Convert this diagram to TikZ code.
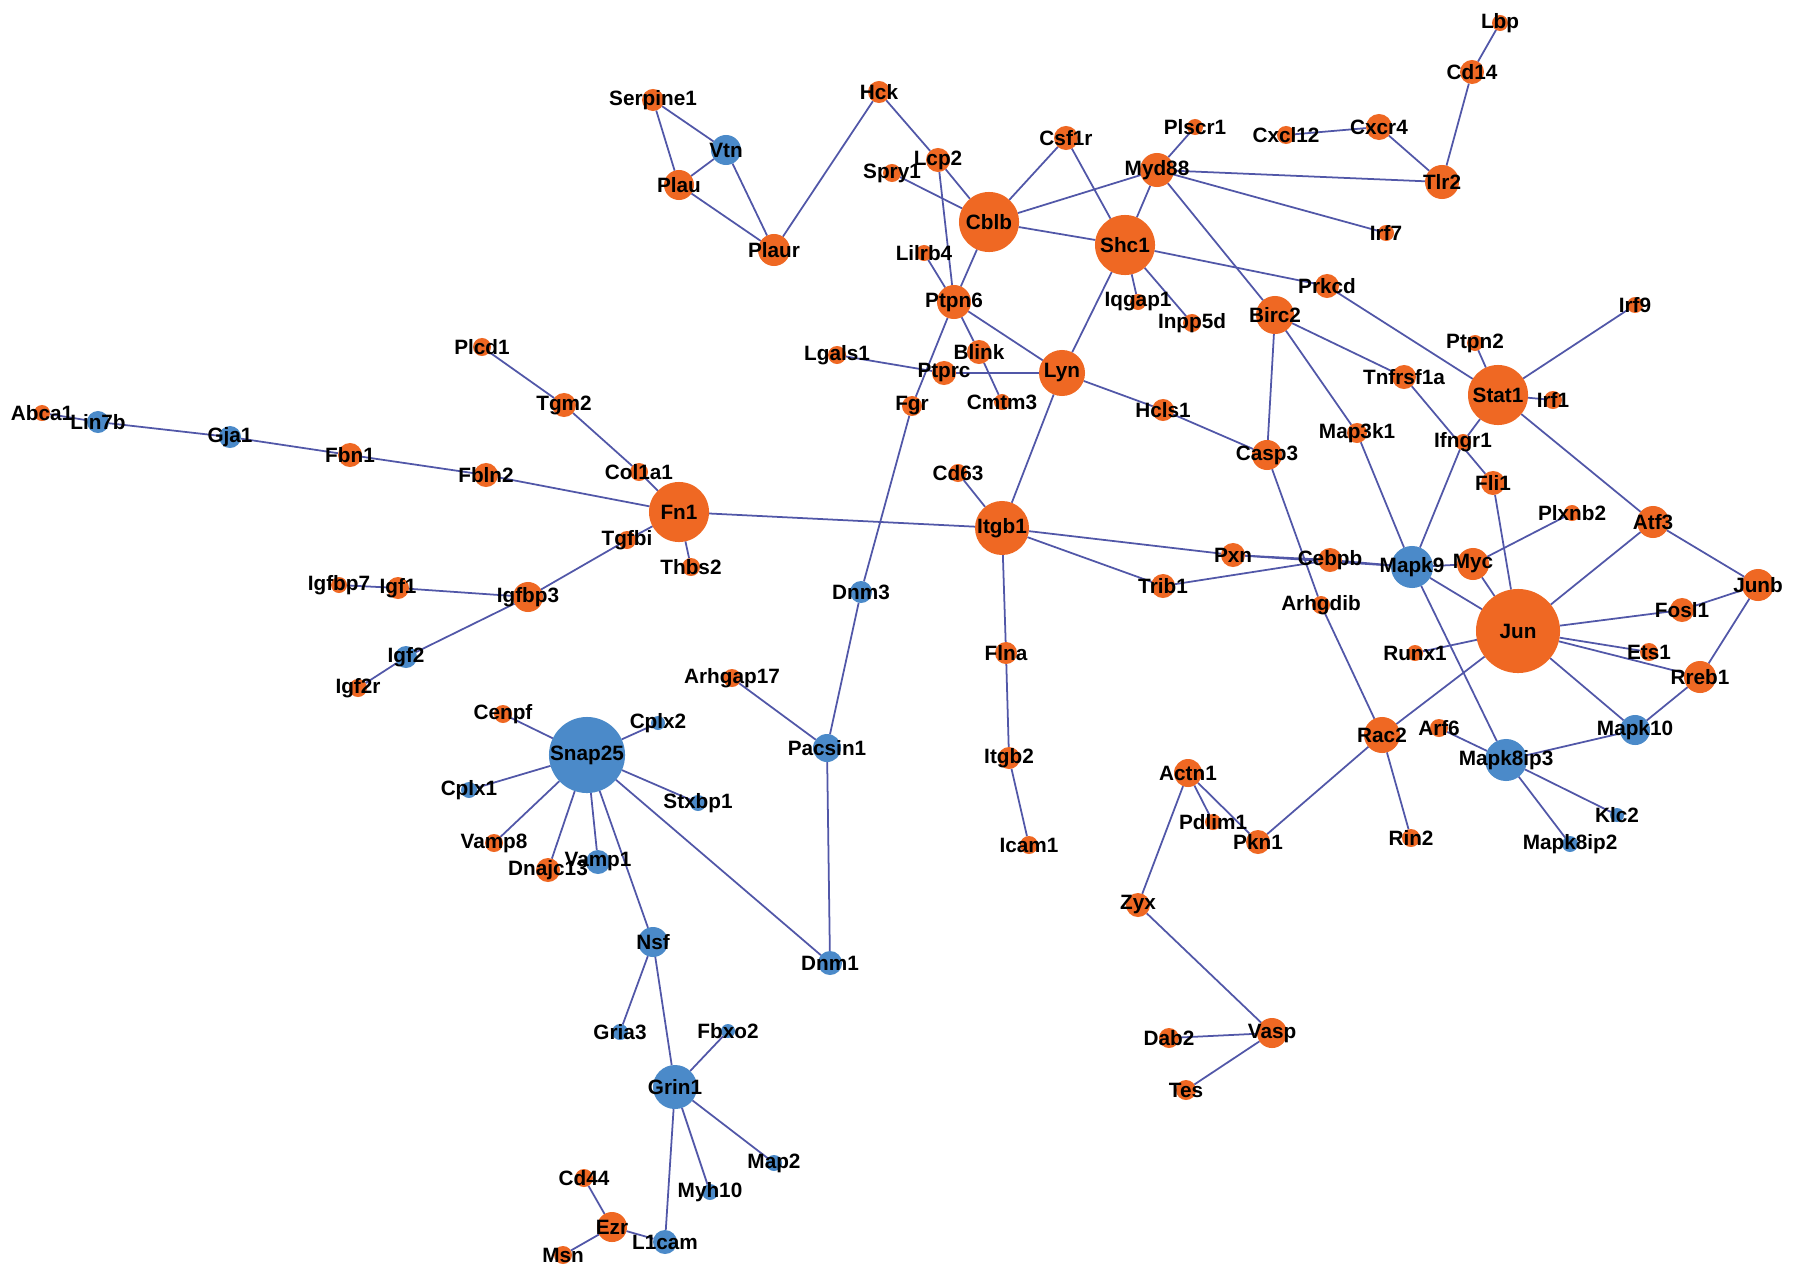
\documentclass[tikz,border=0pt]{standalone}
\usepackage{fontspec}
\setmainfont{Liberation Sans}
\usetikzlibrary{backgrounds}
\definecolor{og}{HTML}{EF6823}
\definecolor{bl}{HTML}{4B8AC9}
\definecolor{ed}{HTML}{5157A8}
\pgfdeclarelayer{bgzero}
\pgfsetlayers{bgzero,background,main}
\tikzset{
  gnode/.style={circle, draw=none, inner sep=0pt, outer sep=0pt},
  lbl/.style={inner sep=0pt, text=black, font=\bfseries\fontsize{5.9}{6.2}\selectfont},
  edge/.style={draw=ed, line width=0.5pt}
}
\newcommand{\gn}[6]{%
  \node[gnode, fill=#5, minimum size=#4*0.02cm] (#1) at (#2,#3) {};
  \node[lbl] (#1-t) at (#2,#3) {#6};}
\begin{document}
\begin{tikzpicture}[x=0.01cm, y=-0.01cm]
\begin{pgfonlayer}{bgzero}
\fill[white] (0,0) rectangle (1795,1276);
\end{pgfonlayer}
\useasboundingbox (0,0) rectangle (1795,1276);
% left
\gn{abca1}{42}{413}{8}{og}{Abca1}
\gn{lin7b}{98}{422}{11}{bl}{Lin7b}
\gn{gja1}{230}{437}{11}{bl}{Gja1}
\gn{fbn1}{350}{455}{12}{og}{Fbn1}
\gn{fbln2}{486}{475}{12}{og}{Fbln2}
\gn{plcd1}{482}{347}{9}{og}{Plcd1}
\gn{tgm2}{564}{405}{12}{og}{Tgm2}
\gn{col1a1}{639}{472}{9}{og}{Col1a1}
\gn{fn1}{679}{512}{30}{og}{Fn1}
\gn{tgfbi}{627}{540}{9}{og}{Tgfbi}
\gn{thbs2}{691}{567}{9}{og}{Thbs2}
\gn{igfbp7}{339}{585}{8}{og}{Igfbp7}
\gn{igf1}{398}{588}{11}{og}{Igf1}
\gn{igfbp3}{528}{597}{15}{og}{Igfbp3}
\gn{igf2}{406}{657}{11}{bl}{Igf2}
\gn{igf2r}{358}{688}{9}{og}{Igf2r}
\gn{cenpf}{503}{714}{9}{og}{Cenpf}
\gn{snap25}{587}{755}{38}{bl}{Snap25}
\gn{cplx2}{658}{723}{7}{bl}{Cplx2}
\gn{cplx1}{469}{790}{8}{bl}{Cplx1}
\gn{stxbp1}{698}{803}{8}{bl}{Stxbp1}
\gn{vamp8}{494}{843}{9}{og}{Vamp8}
\gn{dnajc13}{548}{870}{12}{og}{Dnajc13}
\gn{vamp1}{598}{862}{12}{bl}{Vamp1}
\gn{nsf}{653}{942}{15}{bl}{Nsf}
\gn{dnm1}{830}{963}{12}{bl}{Dnm1}
\gn{gria3}{620}{1032}{8}{bl}{Gria3}
\gn{fbxo2}{728}{1031}{7}{bl}{Fbxo2}
\gn{grin1}{675}{1087}{22}{bl}{Grin1}
\gn{map2}{774}{1163}{8}{bl}{Map2}
\gn{myh10}{710}{1192}{8}{bl}{Myh10}
\gn{l1cam}{665}{1242}{12}{bl}{L1cam}
\gn{ezr}{612}{1227}{15}{og}{Ezr}
\gn{cd44}{584}{1178}{9}{og}{Cd44}
\gn{msn}{563}{1255}{9}{og}{Msn}
% top centre
\gn{serpine1}{653}{100}{11}{og}{Serpine1}
\gn{vtn}{726}{150}{15}{bl}{Vtn}
\gn{plau}{679}{185}{15}{og}{Plau}
\gn{plaur}{774}{250}{16}{og}{Plaur}
\gn{hck}{879}{92}{11}{og}{Hck}
\gn{lcp2}{938}{160}{12}{og}{Lcp2}
\gn{spry1}{892}{173}{9}{og}{Spry1}
\gn{csf1r}{1066}{138}{12}{og}{Csf1r}
\gn{plscr1}{1195}{127}{8}{og}{Plscr1}
\gn{myd88}{1157}{170}{17}{og}{Myd88}
\gn{cblb}{989}{222}{30}{og}{Cblb}
\gn{shc1}{1125}{245}{30}{og}{Shc1}
\gn{lilrb4}{924}{253}{8}{og}{Lilrb4}
\gn{ptpn6}{954}{302}{17}{og}{Ptpn6}
\gn{iqgap1}{1138}{302}{8}{og}{Iqgap1}
\gn{inpp5d}{1192}{323}{9}{og}{Inpp5d}
\gn{lgals1}{837}{355}{9}{og}{Lgals1}
\gn{blink}{979}{352}{12}{og}{Blink}
\gn{ptprc}{944}{373}{12}{og}{Ptprc}
\gn{lyn}{1062}{373}{23}{og}{Lyn}
\gn{fgr}{912}{406}{10}{og}{Fgr}
\gn{cmtm3}{1002}{402}{8}{og}{Cmtm3}
\gn{hcls1}{1163}{410}{11}{og}{Hcls1}
\gn{dnm3}{861}{592}{11}{bl}{Dnm3}
\gn{pacsin1}{827}{748}{14}{bl}{Pacsin1}
\gn{arhgap17}{732}{678}{9}{og}{Arhgap17}
\gn{cd63}{958}{473}{9}{og}{Cd63}
\gn{itgb1}{1002}{528}{27}{og}{Itgb1}
\gn{trib1}{1163}{586}{12}{og}{Trib1}
\gn{flna}{1006}{653}{11}{og}{Flna}
\gn{itgb2}{1009}{758}{11}{og}{Itgb2}
\gn{icam1}{1029}{845}{9}{og}{Icam1}
% right
\gn{lbp}{1500}{23}{8}{og}{Lbp}
\gn{cd14}{1472}{72}{12}{og}{Cd14}
\gn{cxcl12}{1286}{135}{9}{og}{Cxcl12}
\gn{cxcr4}{1379}{127}{13}{og}{Cxcr4}
\gn{tlr2}{1442}{182}{17}{og}{Tlr2}
\gn{irf7}{1386}{233}{8}{og}{Irf7}
\gn{prkcd}{1327}{286}{12}{og}{Prkcd}
\gn{birc2}{1275}{315}{19}{og}{Birc2}
\gn{ptpn2}{1475}{343}{8}{og}{Ptpn2}
\gn{irf9}{1635}{305}{8}{og}{Irf9}
\gn{tnfrsf1a}{1404}{377}{12}{og}{Tnfrsf1a}
\gn{stat1}{1498}{395}{30}{og}{Stat1}
\gn{irf1}{1553}{400}{9}{og}{Irf1}
\gn{casp3}{1267}{455}{15}{og}{Casp3}
\gn{map3k1}{1357}{433}{10}{og}{Map3k1}
\gn{ifngr1}{1463}{442}{8}{og}{Ifngr1}
\gn{fli1}{1493}{483}{12}{og}{Fli1}
\gn{plxnb2}{1572}{513}{8}{og}{Plxnb2}
\gn{atf3}{1653}{522}{16}{og}{Atf3}
\gn{junb}{1758}{585}{16}{og}{Junb}
\gn{fosl1}{1682}{610}{12}{og}{Fosl1}
\gn{ets1}{1649}{652}{9}{og}{Ets1}
\gn{rreb1}{1700}{677}{16}{og}{Rreb1}
\gn{pxn}{1233}{555}{12}{og}{Pxn}
\gn{cebpb}{1330}{560}{12}{og}{Cebpb}
\gn{mapk9}{1412}{567}{21}{bl}{Mapk9}
\gn{myc}{1473}{564}{16}{og}{Myc}
\gn{arhgdib}{1321}{605}{9}{og}{Arhgdib}
\gn{jun}{1518}{631}{42}{og}{Jun}
\gn{runx1}{1415}{653}{8}{og}{Runx1}
\gn{rac2}{1382}{735}{18}{og}{Rac2}
\gn{arf6}{1439}{728}{9}{og}{Arf6}
\gn{mapk8ip3}{1506}{760}{21}{bl}{Mapk8ip3}
\gn{mapk10}{1635}{730}{15}{bl}{Mapk10}
\gn{klc2}{1617}{815}{7}{bl}{Klc2}
\gn{mapk8ip2}{1570}{844}{8}{bl}{Mapk8ip2}
\gn{actn1}{1188}{773}{14}{og}{Actn1}
\gn{pdlim1}{1213}{822}{8}{og}{Pdlim1}
\gn{pkn1}{1258}{842}{12}{og}{Pkn1}
\gn{rin2}{1411}{838}{9}{og}{Rin2}
\gn{zyx}{1138}{905}{12}{og}{Zyx}
\gn{vasp}{1272}{1033}{15}{og}{Vasp}
\gn{dab2}{1169}{1038}{10}{og}{Dab2}
\gn{tes}{1186}{1090}{10}{og}{Tes}
\begin{pgfonlayer}{background}
\foreach \a/\b in {abca1/lin7b, lin7b/gja1, gja1/fbn1, fbn1/fbln2, fbln2/fn1,
  plcd1/tgm2, tgm2/col1a1, col1a1/fn1, fn1/tgfbi, tgfbi/igfbp3, fn1/thbs2,
  igfbp7/igf1, igf1/igfbp3, igfbp3/igf2, igf2/igf2r, fn1/itgb1,
  serpine1/vtn, serpine1/plau, vtn/plau, vtn/plaur, plau/plaur, plaur/hck,
  hck/lcp2, lcp2/cblb, lcp2/ptpn6, spry1/cblb, csf1r/cblb, csf1r/shc1,
  myd88/cblb, myd88/shc1, myd88/plscr1, myd88/tlr2, myd88/irf7, myd88/birc2,
  cblb/shc1, cblb/ptpn6, lilrb4/ptpn6, shc1/iqgap1, shc1/inpp5d, shc1/lyn,
  shc1/prkcd, prkcd/stat1, ptpn6/lyn, ptpn6/fgr, ptpn6/blink, blink/cmtm3,
  lgals1/ptprc, ptprc/lyn, fgr/dnm3, lyn/hcls1, hcls1/casp3, lyn/itgb1,
  cd63/itgb1, itgb1/pxn, itgb1/trib1, trib1/cebpb, pxn/cebpb, pxn/mapk9,
  cebpb/mapk9, mapk9/myc, mapk9/jun, mapk9/map3k1, mapk9/ifngr1, ifngr1/stat1,
  tnfrsf1a/fli1, birc2/casp3, birc2/map3k1, birc2/tnfrsf1a, fli1/jun,
  myc/plxnb2, myc/jun, stat1/ptpn2, stat1/irf9, stat1/irf1, stat1/atf3,
  atf3/jun, atf3/junb, junb/fosl1, fosl1/jun, junb/rreb1, jun/ets1, jun/rreb1,
  jun/runx1, jun/rac2, jun/mapk10, mapk10/rreb1, mapk10/mapk8ip3,
  mapk9/mapk8ip3, arf6/mapk8ip3, mapk8ip3/klc2, mapk8ip3/mapk8ip2,
  casp3/arhgdib, arhgdib/rac2, rac2/pkn1, rac2/rin2, actn1/pdlim1, actn1/pkn1,
  actn1/zyx, zyx/vasp, vasp/dab2, vasp/tes, cd14/lbp, cd14/tlr2, cxcr4/tlr2,
  cxcl12/cxcr4, itgb1/flna, flna/itgb2, itgb2/icam1, arhgap17/pacsin1,
  dnm3/pacsin1, pacsin1/dnm1, snap25/cenpf, snap25/cplx2, snap25/cplx1,
  snap25/vamp8, snap25/dnajc13, snap25/vamp1, snap25/nsf, snap25/stxbp1,
  snap25/dnm1, nsf/gria3, nsf/grin1, grin1/fbxo2, grin1/map2, grin1/myh10,
  grin1/l1cam, l1cam/ezr, ezr/cd44, ezr/msn}
  \draw[edge] (\a) -- (\b);
\end{pgfonlayer}
\end{tikzpicture}
\end{document}
